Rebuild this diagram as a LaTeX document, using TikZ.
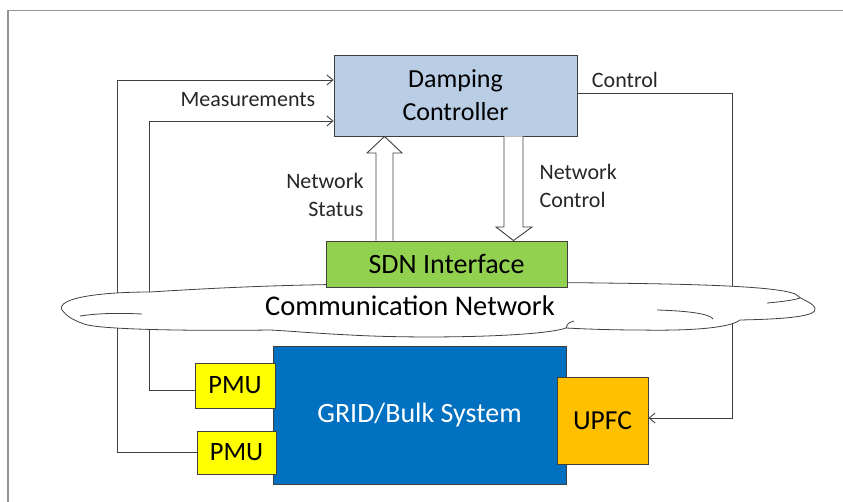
\documentclass[tikz,border=0pt]{standalone}
\usepackage{fontspec}
\setmainfont{Carlito}
\usetikzlibrary{arrows.meta}
\definecolor{ctrlblue}{HTML}{B9CDE5}
\definecolor{sdngreen}{HTML}{92D050}
\definecolor{gridblue}{HTML}{0070C0}
\definecolor{pmuyellow}{HTML}{FFFF00}
\definecolor{upfcorange}{HTML}{FFC000}
\definecolor{linegray}{HTML}{404040}
\begin{document}
\begin{tikzpicture}[x=1pt,y=-1pt,
  box/.style={draw=linegray,line width=0.9pt,inner sep=0pt,align=center},
  sig/.style={draw=linegray,line width=0.9pt,-{Straight Barb[length=6pt,width=10pt]}},
  blk/.style={draw=linegray,fill=white,line width=0.9pt},
  lbl/.style={font=\fontsize{22}{28}\selectfont,text=black!85}]
\useasboundingbox (0,0) rectangle (843,502);
\draw[gray!85,line width=1.3pt] (8,502) -- (8,10.5) -- (843,10.5);
% boxes
\node[box,fill=ctrlblue,minimum width=243,minimum height=81,font=\fontsize{26}{33}\selectfont] (dc) at (455.5,95.5) {Damping\\Controller};
\node[box,fill=gridblue,minimum width=293,minimum height=138,text=white,font=\fontsize{28}{30}\selectfont] (grid) at (419.5,415) {GRID/Bulk System};
\node[box,fill=pmuyellow,minimum width=80,minimum height=45,font=\fontsize{26.5}{30}\selectfont] (pmu1) at (235,385.5) {PMU};
\node[box,fill=pmuyellow,minimum width=79,minimum height=43,font=\fontsize{26.5}{30}\selectfont] (pmu2) at (236.5,452.5) {PMU};
\node[box,fill=upfcorange,minimum width=91,minimum height=87,font=\fontsize{27.5}{30}\selectfont] (upfc) at (602.5,420.5) {UPFC};
% measurement and control loops
\draw[sig] (pmu2.west) -- ++(-79,0) |- ([yshift=15.5pt]dc.west);
\draw[sig] ([yshift=-4.5pt]pmu1.west) -- ++(-45,0) |- ([yshift=-25.5pt]dc.west);
\draw[sig] ([yshift=2.5pt]dc.east) -- ++(155,0) |- ([yshift=2.5pt]upfc.east);
% cloud
\draw[linegray,line width=0.8pt,fill=white] (62,310)
  .. controls (56,298) and (100,292) .. (150,292)
  .. controls (230,287) and (300,284) .. (400,284)
  .. controls (480,284) and (540,282) .. (600,283)
  .. controls (690,284) and (790,286) .. (798,296)
  .. controls (802,300) and (812,302) .. (815,308)
  .. controls (818,316) and (790,319) .. (740,320)
  .. controls (730,328) and (690,331) .. (640,330)
  .. controls (610,330) and (585,329) .. (566,328)
  .. controls (540,337) and (420,339) .. (350,335)
  .. controls (310,333) and (290,331) .. (270,330)
  .. controls (200,331) and (100,330) .. (84,324)
  .. controls (70,319) and (66,315) .. cycle;
\draw[linegray,line width=0.8pt] (80,316) .. controls (100,313) and (120,313) .. (142,314);
\draw[linegray,line width=0.8pt] (657,310) .. controls (690,311) and (710,314) .. (713,319);
\draw[linegray,line width=0.8pt] (767,303) .. controls (780,302) and (795,300) .. (800,298);
\draw[linegray,line width=0.8pt] (566,328) .. controls (568,323) .. (574,321);
\node[font=\fontsize{28.5}{30}\selectfont] (comm) at (410,306) {Communication Network};
\node[box,fill=sdngreen,minimum width=241,minimum height=46,font=\fontsize{28}{30}\selectfont] (sdn) at (446.5,264) {SDN Interface};
% status / control block arrows
\draw[blk] (376,0 |- sdn.north) -- (376,153) -- (367,153) -- (384.5,0 |- dc.south)
  -- (402,153) -- (393,153) -- (393,0 |- sdn.north);
\draw[blk] (504,0 |- dc.south) -- (504,227) -- (496,227) -- (513.5,0 |- sdn.north)
  -- (532,227) -- (523,227) -- (523,0 |- dc.south);
% labels
\node[lbl] (meas) at (248,100) {Measurements};
\node[lbl] (ctrl) at (625,80) {Control};
\node[lbl,align=right,anchor=east] (nstat) at (367,195) {Network\\Status};
\node[lbl,align=left,anchor=west] (nctrl) at (536,186) {Network\\Control};
\end{tikzpicture}
\end{document}
